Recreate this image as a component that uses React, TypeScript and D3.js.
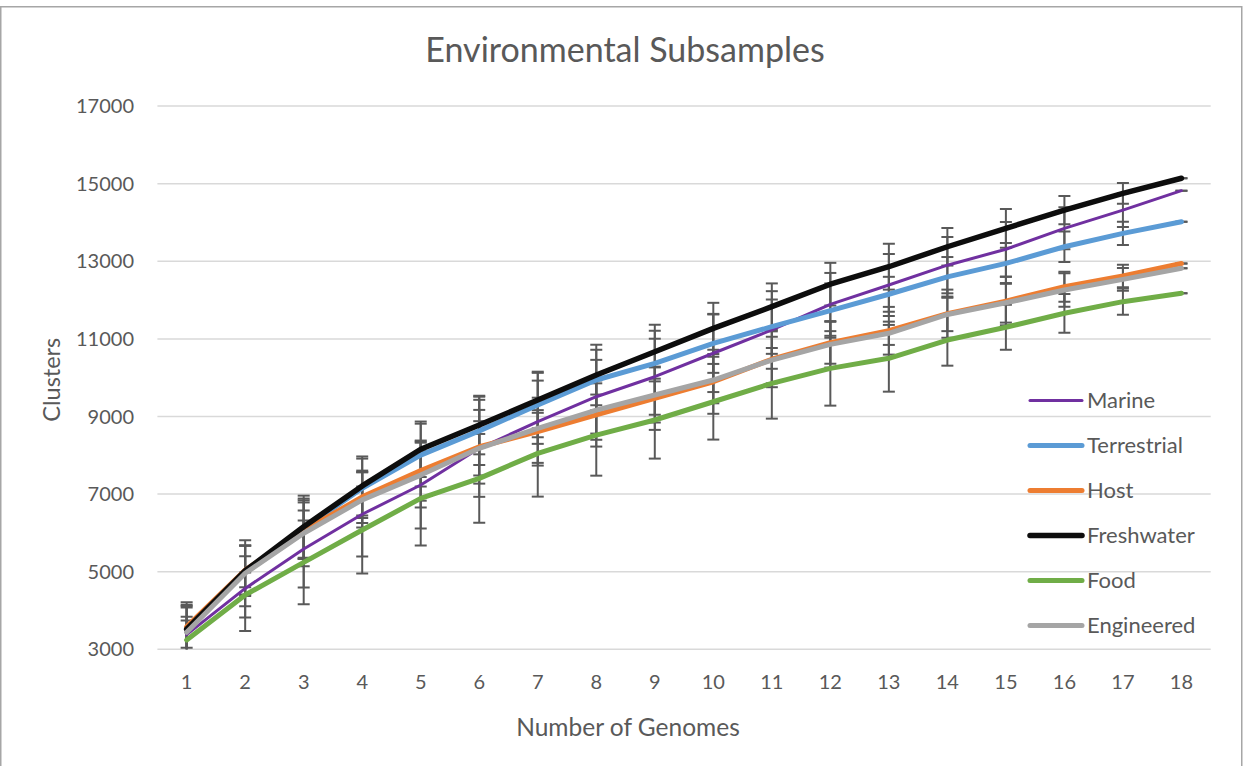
import React from "react";
import * as d3 from "d3";

// Number of genomes sampled (category axis)
const genomes = ["1", "2", "3", "4", "5", "6", "7", "8", "9", "10", "11", "12", "13", "14", "15", "16", "17", "18"];
const yTicks = [3000, 5000, 7000, 9000, 11000, 13000, 15000, 17000];

// Mean cluster counts per environment
const marine = [3380, 4570, 5585, 6480, 7235, 8180, 8865, 9510, 10025, 10630, 11230, 11890, 12390, 12900, 13310, 13850, 14320, 14820];
const terrestrial = [3550, 5000, 6110, 7150, 8005, 8630, 9295, 9940, 10370, 10885, 11315, 11730, 12150, 12600, 12945, 13375, 13720, 14020];
const host = [3580, 5045, 6055, 6930, 7605, 8220, 8610, 9040, 9470, 9895, 10475, 10900, 11210, 11650, 11975, 12345, 12620, 12945];
const freshwater = [3515, 5025, 6160, 7210, 8155, 8780, 9425, 10070, 10670, 11270, 11830, 12410, 12860, 13375, 13850, 14320, 14750, 15140];
const food = [3240, 4400, 5240, 6075, 6890, 7405, 8050, 8520, 8910, 9380, 9855, 10240, 10500, 10970, 11300, 11660, 11960, 12175];
const engineered = [3440, 4960, 5990, 6850, 7490, 8180, 8695, 9165, 9555, 9940, 10455, 10860, 11145, 11630, 11930, 12260, 12535, 12820];

// Standard deviations (symmetric error bars)
const marineErr = [700, 1100, 990, 1090, 1120, 1250, 1060, 950, 980, 1000, 1000, 810, 800, 725, 705, 540, 435, 0];
const terrestrialErr = [600, 400, 775, 765, 810, 880, 830, 780, 840, 760, 700, 700, 450, 510, 525, 390, 300, 0];
const hostErr = [630, 630, 730, 675, 775, 950, 875, 815, 815, 825, 720, 540, 615, 620, 625, 385, 290, 0];
const freshwaterErr = [600, 650, 800, 760, 715, 755, 730, 780, 695, 660, 600, 550, 590, 485, 500, 365, 265, 0];
const foodErr = [500, 580, 1080, 1120, 1215, 1145, 1115, 1045, 995, 975, 910, 960, 860, 660, 580, 500, 340, 0];
const engineeredErr = [400, 850, 850, 710, 835, 700, 400, 765, 710, 600, 600, 600, 300, 430, 510, 430, 295, 0];

const seriesNames = ["Marine", "Terrestrial", "Host", "Freshwater", "Food", "Engineered"];
const seriesValues = [marine, terrestrial, host, freshwater, food, engineered];
const seriesErrors = [marineErr, terrestrialErr, hostErr, freshwaterErr, foodErr, engineeredErr];
const seriesColors = ["#7030A0", "#5B9BD5", "#ED7D31", "#0D0D0D", "#70AD47", "#A5A5A5"];
const seriesWidths = [3, 5, 5, 5.5, 5, 5];

const W = 1249;
const H = 766;
const plot = { left: 157.4, right: 1210.7, top: 106.1, bottom: 649.3 };
const FONT = "Lato, 'Open Sans', sans-serif";
const TEXT = "#595959";

export default function App() {
  const x = d3.scaleBand<string>().domain(genomes).range([plot.left, plot.right]);
  const cx = (g: string) => (x(g) as number) + x.bandwidth() / 2;
  const y = d3.scaleLinear().domain([3000, 17000]).range([plot.bottom, plot.top]);

  const line = d3
    .line<number>()
    .x((_, i) => cx(genomes[i]))
    .y((v) => y(v));

  const capHalf = 6;

  return (
    <svg
      width={W}
      height={H}
      style={{ position: "absolute", left: 0, top: 0, background: "#fff" }}
      fontFamily={FONT}
    >
      <defs>
        <clipPath id="plotClip">
          <rect x={plot.left} y={plot.top - 20} width={plot.right - plot.left + 20} height={plot.bottom - plot.top + 20} />
        </clipPath>
      </defs>
      <rect x={0} y={0} width={W} height={H} fill="#fff" />
      <rect x={0.75} y={6.75} width={1241} height={H + 10} fill="none" stroke="#A6A6A6" strokeWidth={1.5} />

      {/* title */}
      <text x={625} y={62} textAnchor="middle" fontSize={34} fill={TEXT}>
        Environmental Subsamples
      </text>

      {/* gridlines */}
      {yTicks.map((t) => (
        <line key={t} x1={plot.left} x2={plot.right} y1={y(t)} y2={y(t)} stroke="#D9D9D9" strokeWidth={1.5} />
      ))}

      {/* y tick labels */}
      {yTicks.map((t) => (
        <text key={t} x={134} y={y(t) + 7} textAnchor="end" fontSize={20} fill={TEXT}>
          {t}
        </text>
      ))}

      {/* x tick labels */}
      {genomes.map((g) => (
        <text key={g} x={cx(g)} y={689} textAnchor="middle" fontSize={20} fill={TEXT}>
          {g}
        </text>
      ))}

      {/* axis titles */}
      <text x={628} y={736} textAnchor="middle" fontSize={24.5} fill={TEXT}>
        Number of Genomes
      </text>
      <text
        transform={`translate(60, ${(plot.top + plot.bottom) / 2 + 2}) rotate(-90)`}
        textAnchor="middle"
        fontSize={23.5}
        fill={TEXT}
      >
        Clusters
      </text>

      {/* error bars */}
      <g clipPath="url(#plotClip)" stroke="#595959" strokeWidth={2}>
        {seriesValues.map((vals, si) =>
          vals.map((v, i) => {
            const e = seriesErrors[si][i];
            const px = cx(genomes[i]);
            const y1 = y(v + e);
            const y2 = y(v - e);
            return (
              <g key={`${si}-${i}`}>
                <line x1={px} x2={px} y1={y1} y2={y2} />
                <line x1={px - capHalf} x2={px + capHalf} y1={y1} y2={y1} />
                <line x1={px - capHalf} x2={px + capHalf} y1={y2} y2={y2} />
              </g>
            );
          })
        )}
      </g>

      {/* series lines */}
      {seriesValues.map((vals, si) => (
        <path
          key={seriesNames[si]}
          d={line(vals) || ""}
          fill="none"
          stroke={seriesColors[si]}
          strokeWidth={seriesWidths[si]}
          strokeLinecap="round"
          strokeLinejoin="round"
        />
      ))}

      {/* legend */}
      {seriesNames.map((name, si) => {
        const ly = 400.5 + si * 45;
        return (
          <g key={name}>
            <line
              x1={1030}
              x2={1082}
              y1={ly}
              y2={ly}
              stroke={seriesColors[si]}
              strokeWidth={seriesWidths[si]}
              strokeLinecap="round"
            />
            <text x={1087} y={ly + 7.5} fontSize={22} fill={TEXT}>
              {name}
            </text>
          </g>
        );
      })}
    </svg>
  );
}
